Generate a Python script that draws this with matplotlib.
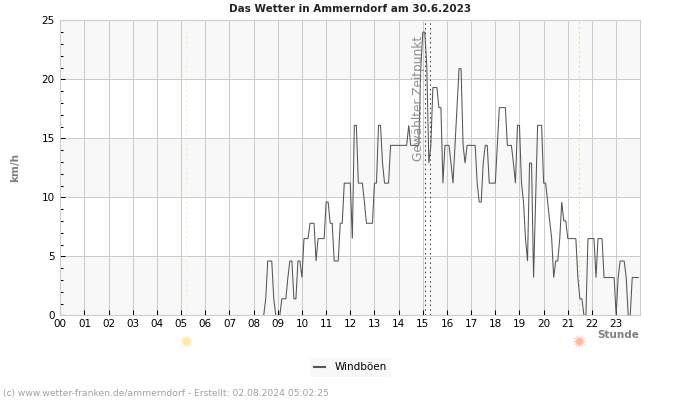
import matplotlib
matplotlib.use("Agg")
import matplotlib.pyplot as plt
import numpy as np

# Windböen in km/h, 5-Minuten-Werte je Stunde
stunde_00_07 = [0] * 96
stunde_08 = [0, 0, 0, 0, 0, 0, 1.4, 4.6, 4.6, 4.6, 1.4, 0]
stunde_09 = [0, 0, 1.4, 1.4, 1.4, 3.2, 4.6, 4.6, 1.4, 1.4, 4.6, 4.6]
stunde_10 = [3.2, 6.5, 6.5, 6.5, 7.8, 7.8, 7.8, 4.6, 6.5, 6.5, 6.5, 6.5]
stunde_11 = [9.6, 9.6, 7.8, 7.8, 4.6, 4.6, 4.6, 7.8, 7.8, 11.2, 11.2, 11.2]
stunde_12 = [11.2, 6.5, 16.1, 16.1, 11.2, 11.2, 11.2, 9.6, 7.8, 7.8, 7.8, 7.8]
stunde_13 = [11.2, 11.2, 16.1, 16.1, 12.9, 11.2, 11.2, 11.2, 14.4, 14.4, 14.4, 14.4]
stunde_14 = [14.4, 14.4, 14.4, 14.4, 14.4, 16.1, 14.4, 14.4, 14.4, 14.4, 14.4, 21.0]
stunde_15 = [24.0, 24.0, 21.0, 12.9, 14.4, 19.3, 19.3, 19.3, 17.6, 17.6, 11.2, 14.4]
stunde_16 = [14.4, 14.4, 12.9, 11.2, 14.4, 17.6, 20.9, 20.9, 14.4, 12.9, 14.4, 14.4]
stunde_17 = [14.4, 14.4, 14.4, 11.2, 9.6, 9.6, 12.9, 14.4, 14.4, 11.2, 11.2, 11.2]
stunde_18 = [11.2, 14.4, 17.6, 17.6, 17.6, 17.6, 14.4, 14.4, 14.4, 12.9, 11.2, 16.1]
stunde_19 = [16.1, 11.2, 9.6, 6.5, 4.6, 12.9, 12.9, 3.2, 9.6, 16.1, 16.1, 16.1]
stunde_20 = [11.2, 11.2, 9.6, 8.0, 6.5, 3.2, 4.6, 4.6, 6.5, 9.6, 8.0, 8.0]
stunde_21 = [6.5, 6.5, 6.5, 6.5, 6.5, 3.2, 1.4, 1.4, 0, 0, 6.5, 6.5]
stunde_22 = [6.5, 6.5, 3.2, 6.5, 6.5, 6.5, 3.2, 3.2, 3.2, 3.2, 3.2, 3.2]
stunde_23 = [0, 3.2, 4.6, 4.6, 4.6, 3.2, 0, 0, 3.2, 3.2, 3.2, 3.2]

windboeen = (stunde_00_07 + stunde_08 + stunde_09 + stunde_10 + stunde_11
             + stunde_12 + stunde_13 + stunde_14 + stunde_15 + stunde_16
             + stunde_17 + stunde_18 + stunde_19 + stunde_20 + stunde_21
             + stunde_22 + stunde_23)
zeit = np.arange(len(windboeen)) * 5 / 60

stunden_labels = [f"{h:02d}" for h in range(24)]
y_labels = [0, 5, 10, 15, 20, 25]
sonnenaufgang = 5.2
sonnenuntergang = 21.45
zeitpunkt = [15.08, 15.3]

GRAU = "#cccccc"
TEXT_GRAU = "#808080"

fig = plt.figure(figsize=(7, 4), dpi=100)
ax = fig.add_axes([60.3 / 700, 1 - 315.3 / 400, 580 / 700, 295 / 400])

# Baender und Gitter
for unten in [0, 10, 20]:
    ax.axhspan(unten, unten + 5, color="#f8f8f8", lw=0, zorder=0)
ax.grid(True, color=GRAU, lw=0.75, zorder=1)
ax.set_axisbelow(True)

ax.axvline(sonnenaufgang, color="#f5ee90", lw=0.7, ls=(0, (1.5, 3.5)), zorder=2)
ax.axvline(sonnenuntergang, color="#f5c48a", lw=0.7, ls=(0, (1.5, 3.5)), zorder=2)
for x in zeitpunkt:
    ax.axvline(x, color="#444444", lw=0.75, ls=(0, (1.5, 3)), zorder=2)

# Nullwerte liegen im Original unsichtbar auf der Achse
werte = np.array(windboeen, dtype=float)
nachbarn = np.convolve(werte, [1, 1, 1], mode="same")
werte[nachbarn == 0] = np.nan
linie, = ax.plot(zeit, werte, color="#555555", lw=0.75, zorder=3,
                 solid_joinstyle="miter", label="Windböen")

ax.text(14.84, 18.4, "Gewählter Zeitpunkt", rotation=90, color="#909090",
        fontsize=8.7, ha="center", va="center", zorder=4)

ax.set_xlim(0, 24)
ax.set_ylim(0, 25)
ax.set_xticks(range(24))
ax.set_xticklabels(stunden_labels)
ax.set_yticks(y_labels)
ax.set_yticks(range(26), minor=True)
ax.tick_params(axis="x", which="major", direction="in", length=3.6, width=0.75,
               labelsize=7.5, pad=2.5, color="black")
ax.tick_params(axis="y", which="major", direction="in", length=3.6, width=0.75,
               labelsize=7.5, pad=4, color="black")
ax.tick_params(axis="y", which="minor", direction="in", length=1.8, width=0.75,
               color="black")
for seite in ax.spines.values():
    seite.set_color(GRAU)
    seite.set_linewidth(0.75)
    seite.set_zorder(5)

fig.text(350 / 700, 1 - 8.5 / 400, "Das Wetter in Ammerndorf am 30.6.2023",
         fontsize=7.5, fontweight="bold", ha="center", va="center", color="#222222")
fig.text(15 / 700, 1 - 167 / 400, "km/h", fontsize=7.5, fontweight="bold",
         rotation=90, ha="center", va="center", color=TEXT_GRAU)
fig.text(618 / 700, 1 - 334.5 / 400, "Stunde", fontsize=7.5, fontweight="bold",
         ha="center", va="center", color=TEXT_GRAU)
fig.text(3 / 700, 1 - 393.5 / 400,
         "(c) www.wetter-franken.de/ammerndorf - Erstellt: 02.08.2024 05:02:25",
         fontsize=6.6, ha="left", va="center", color="#a0a0a0")

# Sonnen unter der Achse
trans = ax.get_xaxis_transform()
sonne_y = -26 / 295
for x, farbe in [(sonnenaufgang, "#fde9a0"), (sonnenuntergang, "#fdb8a0")]:
    ax.scatter([x], [sonne_y], s=110, marker=(12, 1, 0), color=farbe, lw=0,
               transform=trans, clip_on=False, alpha=0.7, zorder=5)
    ax.scatter([x], [sonne_y], s=24, marker="o", color=farbe, lw=0,
               transform=trans, clip_on=False, zorder=6)

leg = fig.legend(handles=[linie], loc="center", frameon=True, fontsize=7.5,
                 bbox_to_anchor=(350.5 / 700, 1 - 367.5 / 400), handlelength=1.0,
                 handletextpad=0.9, borderpad=0.45, borderaxespad=0, fancybox=False)
leg.get_frame().set_facecolor("#f8f8f8")
leg.get_frame().set_edgecolor("none")
leg.get_frame().set_alpha(1)
leg.get_lines()[0].set_linewidth(1.5)

fig.savefig("out.png", dpi=100)
